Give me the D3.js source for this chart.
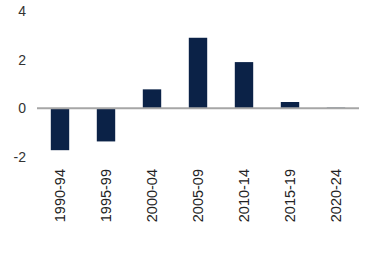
<!DOCTYPE html>
<html><head><meta charset="utf-8">
<script src="https://cdn.jsdelivr.net/npm/d3@7"></script>
<style>body{margin:0;background:#fff}svg{display:block}</style>
</head><body>
<script>
const categories = ["1990-94","1995-99","2000-04","2005-09","2010-14","2015-19","2020-24"];
const values = [-1.72, -1.36, 0.78, 2.9, 1.9, 0.26, 0.03];
const yTicks = [-2, 0, 2, 4];

const W = 381, H = 260;
const svg = d3.select("body").append("svg").attr("width", W).attr("height", H);
const x = d3.scaleBand().domain(categories).range([37, 359]).paddingInner(0.6).paddingOuter(0.3);
const y = d3.scaleLinear().domain([-2, 4]).range([157, 11]);

svg.selectAll("text.yt").data(yTicks).join("text")
  .attr("class","yt")
  .attr("x", 26).attr("y", d => y(d)).attr("dy","0.36em")
  .attr("text-anchor","end")
  .attr("font-family","Liberation Sans, Arial, sans-serif")
  .attr("font-size", 14).attr("fill","#333")
  .text(d => d);

svg.selectAll("rect.bar").data(values).join("rect")
  .attr("class","bar")
  .attr("x", (d,i) => x(categories[i]))
  .attr("width", x.bandwidth())
  .attr("y", d => y(Math.max(0,d)))
  .attr("height", d => Math.abs(y(d) - y(0)))
  .attr("fill", "#0b2247");

svg.append("line")
  .attr("x1", 37).attr("x2", 359)
  .attr("y1", y(0)).attr("y2", y(0))
  .attr("stroke", "#a6a6a6").attr("stroke-width", 2);

svg.selectAll("text.xt").data(categories).join("text")
  .attr("class","xt")
  .attr("transform", d => `translate(${x(d) + x.bandwidth()/2 + 5},169) rotate(-90)`)
  .attr("text-anchor","end")
  .attr("font-family","Liberation Sans, Arial, sans-serif")
  .attr("font-size", 14.5).attr("fill","#222")
  .text(d => d);
</script>
</body></html>
